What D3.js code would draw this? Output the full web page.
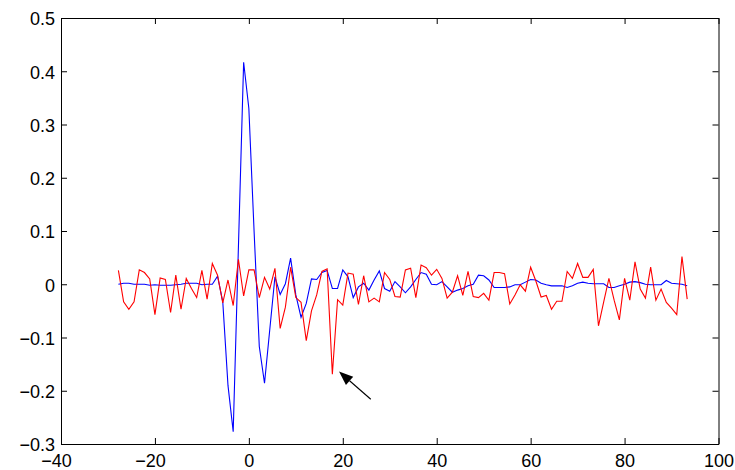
<!DOCTYPE html>
<html><head><meta charset="utf-8">
<script src="https://cdn.jsdelivr.net/npm/d3@7"></script>
<style>body{margin:0;background:#fff} svg{display:block}</style>
</head><body>
<script>
// lag grid (sample index -> lag units)
const lagIndex = d3.range(-25, 85);
const samplePeriod = 1 / 0.9;
const lags = lagIndex.map(k => k * samplePeriod);

const blueSeries = [
  0, 0.002, 0.002, 0, 0, 0, -0.002, -0.001, -0.002, -0.002,
  -0.002, -0.001, 0, 0.002, 0.002, 0.002, -0.001, 0, 0, 0.015,
  -0.033, -0.19, -0.277, 0.07, 0.417, 0.33, 0.10, -0.117, -0.186, -0.086,
  0.014, -0.019, 0.001, 0.049, -0.020, -0.062, -0.036, 0.010, 0.009, 0.022,
  0.026, -0.008, -0.008, 0.027, 0.014, -0.025, -0.005, 0.002, -0.011, 0.008,
  0.025, -0.008, -0.013, 0.005, -0.005, -0.016, -0.005, 0.009, 0.022, 0.019,
  0, -0.001, 0.005, -0.005, -0.015, -0.011, -0.008, -0.003, 0, 0.017,
  0.016, 0.008, -0.006, -0.006, -0.006, -0.005, -0.001, -0.001, 0.004, 0.009,
  0.008, 0.002, -0.001, -0.003, -0.003, -0.003, -0.006, -0.003, 0.002, 0.004,
  0.002, 0.001, 0.001, 0.001, -0.006, -0.006, -0.003, 0, 0.004, 0.005,
  0.003, 0, -0.001, -0.001, -0.001, 0.007, 0.002, 0.001, 0, -0.003
];

const redSeries = [
  0.026, -0.033, -0.047, -0.033, 0.027, 0.022, 0.010, -0.057, 0.012, 0.009,
  -0.053, 0.017, -0.047, 0.011, -0.008, -0.025, 0.026, -0.028, 0.039, 0.017,
  -0.035, 0.008, -0.040, 0.047, -0.022, 0.027, 0.027, -0.025, 0.013, -0.009,
  0.030, -0.083, -0.043, 0.032, -0.025, -0.034, -0.106, -0.050, -0.020, 0.024,
  0.029, -0.169, -0.029, -0.039, 0.021, 0.019, -0.038, 0.016, -0.033, -0.026,
  -0.033, 0.022, 0.009, -0.023, -0.024, 0.027, 0.030, -0.025, 0.036, 0.031,
  0.017, 0.028, 0.011, -0.026, -0.015, 0.016, -0.021, 0.024, -0.023, -0.025,
  -0.017, -0.030, 0.022, 0.022, 0.020, -0.037, -0.020, -0.001, -0.013, 0.032,
  0.006, -0.024, -0.021, -0.047, -0.032, -0.032, 0.024, 0.011, 0.039, 0.013,
  0.013, 0.028, -0.078, -0.033, 0.011, -0.030, -0.067, 0.011, -0.030, 0.042,
  -0.009, -0.026, 0.032, -0.030, -0.009, -0.034, -0.045, -0.057, 0.052, -0.028
];

const xTicks = [-40, -20, 0, 20, 40, 60, 80, 100];
const yTicks = [-0.3, -0.2, -0.1, 0, 0.1, 0.2, 0.3, 0.4, 0.5];
const arrowFrom = [25.96, -0.216];
const arrowTo = [19.2, -0.164];

const W = 735, H = 470;
const L = 61, R = 718.5, T = 18, B = 444;
const FONT = "'Liberation Sans', Arial, Helvetica, sans-serif";

const x = d3.scaleLinear().domain([-40, 100]).range([L, R]);
const y = d3.scaleLinear().domain([-0.3, 0.5]).range([B, T]);

const svg = d3.select("body").append("svg").attr("width", W).attr("height", H);
svg.append("rect").attr("width", W).attr("height", H).attr("fill", "#fff");

const fmtY = d => Math.abs(d) < 1e-9 ? "0" : d3.format(".1f")(d);
const fmtX = d3.format("d");

function styleAxis(g) {
  g.selectAll("path.domain").attr("stroke", "#000").attr("stroke-width", 1);
  g.selectAll(".tick line").attr("stroke", "#000").attr("stroke-width", 1);
  g.selectAll("text").attr("fill", "#000").style("font-family", FONT).style("font-size", "18px");
}

// bottom
const gB = svg.append("g").attr("transform", `translate(0,${B})`)
  .call(d3.axisBottom(x).tickValues(xTicks).tickFormat(fmtX).tickSizeInner(-6).tickSizeOuter(0).tickPadding(10));
styleAxis(gB);
gB.selectAll(".tick text").attr("dx", d => d < 0 ? -5 : 0);
// top
const gT = svg.append("g").attr("transform", `translate(0,${T})`)
  .call(d3.axisTop(x).tickValues(xTicks).tickFormat("").tickSizeInner(-6).tickSizeOuter(0));
styleAxis(gT);
// left
const gL = svg.append("g").attr("transform", `translate(${L},0)`)
  .call(d3.axisLeft(y).tickValues(yTicks).tickFormat(fmtY).tickSizeInner(-6).tickSizeOuter(0).tickPadding(6));
styleAxis(gL);
gL.selectAll(".tick text").attr("dy", "0.38em");
// right
const gR = svg.append("g").attr("transform", `translate(${R},0)`)
  .call(d3.axisRight(y).tickValues(yTicks).tickFormat("").tickSizeInner(-6).tickSizeOuter(0));
styleAxis(gR);

const line = d3.line().x((d, i) => x(lags[i])).y(d => y(d));

svg.append("path").datum(blueSeries).attr("d", line)
  .attr("fill", "none").attr("stroke", "#0000ff").attr("stroke-width", 1.1).attr("stroke-linejoin", "miter");
svg.append("path").datum(redSeries).attr("d", line)
  .attr("fill", "none").attr("stroke", "#ff0000").attr("stroke-width", 1.1).attr("stroke-linejoin", "miter");

// annotation arrow
const x0 = x(arrowFrom[0]), y0 = y(arrowFrom[1]);
const x1 = x(arrowTo[0]), y1 = y(arrowTo[1]);
const dx = x1 - x0, dy = y1 - y0, len = Math.hypot(dx, dy);
const ux = dx / len, uy = dy / len;
const headL = 14, headW = 5.5;
const bx = x1 - ux * headL, by = y1 - uy * headL;
svg.append("line").attr("x1", x0).attr("y1", y0).attr("x2", bx).attr("y2", by)
  .attr("stroke", "#000").attr("stroke-width", 1.1);
svg.append("polygon")
  .attr("points", [[x1, y1], [bx - uy * headW, by + ux * headW], [bx + uy * headW, by - ux * headW]].map(p => p.join(",")).join(" "))
  .attr("fill", "#000");
</script>
</body></html>
